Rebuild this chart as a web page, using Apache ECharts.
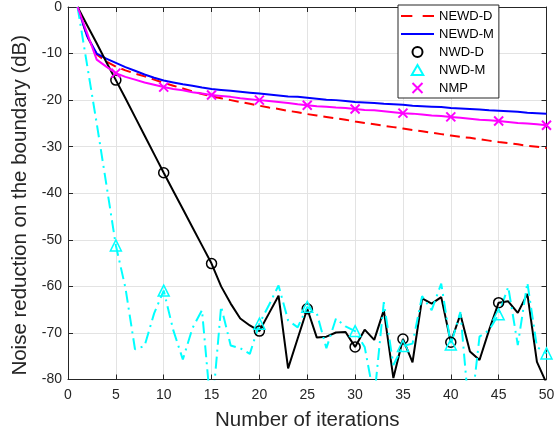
<!DOCTYPE html>
<html><head><meta charset="utf-8">
<script src="https://cdn.jsdelivr.net/npm/echarts@6/dist/echarts.min.js"></script>
<style>html,body{margin:0;padding:0;background:#fff}#c{width:560px;height:436px}</style>
</head><body><div id="c"></div>
<script>
const iterations = [1,2,3,4,5,6,7,8,9,10,11,12,13,14,15,16,17,18,19,20,21,22,23,24,25,26,27,28,29,30,31,32,33,34,35,36,37,38,39,40,41,42,43,44,45,46,47,48,49,50];
const newdD = [0,-6.3,-10.2,-11.7,-12.8,-13.6,-14.3,-14.9,-15.6,-16.3,-16.9,-17.5,-18.1,-18.7,-19.2,-19.6,-20.0,-20.4,-20.8,-21.2,-21.6,-21.9,-22.3,-22.6,-23.0,-23.3,-23.6,-23.9,-24.2,-24.6,-24.9,-25.2,-25.5,-25.8,-26.1,-26.4,-26.7,-27.0,-27.3,-27.6,-27.9,-28.1,-28.4,-28.7,-29.0,-29.2,-29.5,-29.8,-30.0,-30.3];
const newdM = [0,-6.3,-10.0,-11.1,-12.0,-12.9,-13.7,-14.5,-15.2,-15.8,-16.2,-16.6,-16.9,-17.3,-17.6,-17.8,-18.0,-18.2,-18.4,-18.6,-18.8,-19.0,-19.2,-19.3,-19.5,-19.7,-19.9,-20.0,-20.2,-20.4,-20.5,-20.6,-20.8,-20.9,-21.0,-21.2,-21.3,-21.4,-21.5,-21.7,-21.8,-21.9,-22.0,-22.2,-22.3,-22.4,-22.5,-22.7,-22.8,-22.9];
const nwdD = [0,-3.9,-7.8,-11.8,-15.7,-19.6,-23.6,-27.6,-31.6,-35.6,-39.5,-43.4,-47.3,-51.2,-55.1,-60.0,-63.7,-66.9,-68.4,-69.6,-65.8,-62.0,-77.6,-71.2,-64.8,-71.0,-70.8,-69.9,-69.8,-73.0,-69.3,-71.5,-65.1,-79.7,-71.3,-76.3,-62.6,-63.7,-62.3,-72.0,-66.0,-74.0,-75.8,-69.4,-63.5,-63.2,-65.7,-61.6,-76.2,-80.8];
const nwdM = [0,-12.5,-25.0,-38.0,-51.2,-60.3,-73.5,-72.8,-65.8,-60.9,-69.4,-75.7,-69.0,-65.1,-88.0,-64.3,-72.7,-73.3,-74.5,-68.0,-64.0,-59.8,-67.3,-68.8,-64.4,-65.8,-73.3,-66.9,-68.6,-69.6,-73.0,-84.0,-63.4,-76.9,-72.8,-72.3,-62.1,-65.1,-59.4,-72.5,-65.5,-89.0,-70.8,-69.4,-66.0,-60.1,-72.6,-59.2,-73.0,-74.4];
const nmp = [0,-5.6,-11.3,-12.8,-14.2,-15.0,-15.6,-16.2,-16.7,-17.2,-17.6,-17.9,-18.3,-18.6,-18.9,-19.1,-19.3,-19.6,-19.8,-20.0,-20.2,-20.4,-20.6,-20.9,-21.1,-21.3,-21.4,-21.6,-21.7,-21.9,-22.1,-22.2,-22.4,-22.6,-22.8,-22.9,-23.1,-23.3,-23.4,-23.6,-23.8,-24.0,-24.2,-24.3,-24.5,-24.7,-24.9,-25.0,-25.2,-25.4];
const seriesNames = ['NEWD-D','NEWD-M','NWD-D','NWD-M','NMP'];
const xAxisTitle = 'Number of iterations';
const yAxisTitle = 'Noise reduction on the boundary (dB)';

const FONT = '"Liberation Sans", Arial, Helvetica, sans-serif';
const AX = '#262626';
const pairs = arr => iterations.map((x, i) => [x, arr[i]]);
const markEvery = size => (v, p) => ((p.dataIndex + 1) % 5 === 0 ? size : 0);
const crossPath = 'path://M0 0L10 10M10 0L0 10';
const triPath = 'path://M5 0L10 8.66L0 8.66Z';
const dashIcon = 'path://M0 0h11v2h-11zM21 0h11v2h-11z';
const solidIcon = 'path://M0 0h33v2h-33z';

const chart = echarts.init(document.getElementById('c'), null, {renderer: 'canvas'});
const baseX = {type: 'value', min: 0, max: 50, interval: 5};
const baseY = {type: 'value', min: -80, max: 0, interval: 10};
chart.setOption({
  animation: false,
  backgroundColor: '#fff',
  grid: {left: 68, right: 13.5, top: 5.5, bottom: 56.5, containLabel: false},
  xAxis: [
    Object.assign({}, baseX, {
      position: 'bottom',
      axisLine: {show: true, onZero: false, lineStyle: {color: AX, width: 1}},
      axisTick: {show: true, inside: true, length: 5, lineStyle: {color: AX}},
      axisLabel: {color: AX, fontSize: 14, margin: 9, fontFamily: FONT},
      splitLine: {show: true, lineStyle: {color: '#e3e3e3', width: 1}},
      name: xAxisTitle, nameLocation: 'middle', nameGap: 30,
      nameTextStyle: {fontSize: 20.5, color: AX, fontFamily: FONT}
    }),
    Object.assign({}, baseX, {
      position: 'top',
      axisLine: {show: true, onZero: false, lineStyle: {color: AX, width: 1}},
      axisTick: {show: true, inside: true, length: 5, lineStyle: {color: AX}},
      axisLabel: {show: false}, splitLine: {show: false}
    })
  ],
  yAxis: [
    Object.assign({}, baseY, {
      position: 'left',
      axisLine: {show: true, onZero: false, lineStyle: {color: AX, width: 1}},
      axisTick: {show: true, inside: true, length: 5, lineStyle: {color: AX}},
      axisLabel: {color: AX, fontSize: 14, margin: 6, fontFamily: FONT},
      splitLine: {show: true, lineStyle: {color: '#e3e3e3', width: 1}},
      name: yAxisTitle, nameLocation: 'middle', nameGap: 31,
      nameTextStyle: {fontSize: 20.5, color: AX, fontFamily: FONT, padding: [0, 24, 0, 0]}
    }),
    Object.assign({}, baseY, {
      position: 'right',
      axisLine: {show: true, onZero: false, lineStyle: {color: AX, width: 1}},
      axisTick: {show: true, inside: true, length: 5, lineStyle: {color: AX}},
      axisLabel: {show: false}, splitLine: {show: false}
    })
  ],
  legend: {
    orient: 'vertical', left: 398, top: 5,
    padding: [4, 5, 3, 3],
    itemWidth: 33, itemHeight: 10, itemGap: 4,
    backgroundColor: '#fff', borderColor: AX, borderWidth: 1, borderRadius: 0,
    textStyle: {fontFamily: FONT, fontSize: 13, color: '#000', lineHeight: 14},
    data: [
      {name: seriesNames[0], icon: dashIcon, itemStyle: {color: '#ff0000', borderWidth: 0}},
      {name: seriesNames[1], icon: solidIcon, itemStyle: {color: '#0000ff', borderWidth: 0}},
      {name: seriesNames[2], icon: 'circle', itemStyle: {color: 'transparent', borderColor: '#000', borderWidth: 2}},
      {name: seriesNames[3], icon: triPath, itemStyle: {color: 'transparent', borderColor: '#00ffff', borderWidth: 2}},
      {name: seriesNames[4], icon: crossPath, itemStyle: {color: 'transparent', borderColor: '#ff00ff', borderWidth: 2}}
    ]
  },
  series: [
    {name: seriesNames[0], type: 'line', data: pairs(newdD), symbol: 'none', clip: true,
     lineStyle: {color: '#ff0000', width: 2, type: [10, 6]}, itemStyle: {color: '#ff0000'}},
    {name: seriesNames[1], type: 'line', data: pairs(newdM), symbol: 'none', clip: true,
     lineStyle: {color: '#0000ff', width: 2}, itemStyle: {color: '#0000ff'}},
    {name: seriesNames[2], type: 'line', data: pairs(nwdD), symbol: 'circle', showAllSymbol: true,
     symbolSize: markEvery(10), clip: true,
     lineStyle: {color: '#000000', width: 2},
     itemStyle: {color: 'transparent', borderColor: '#000000', borderWidth: 1.5}},
    {name: seriesNames[3], type: 'line', data: pairs(nwdM), symbol: triPath, showAllSymbol: true,
     symbolSize: markEvery(11), clip: true,
     lineStyle: {color: '#00ffff', width: 2, type: [12, 5, 2, 5]},
     itemStyle: {color: 'transparent', borderColor: '#00ffff', borderWidth: 1.5}},
    {name: seriesNames[4], type: 'line', data: pairs(nmp), symbol: crossPath, showAllSymbol: true,
     symbolSize: markEvery(9), clip: true,
     lineStyle: {color: '#ff00ff', width: 2},
     itemStyle: {color: 'transparent', borderColor: '#ff00ff', borderWidth: 2}}
  ]
});
</script></body></html>
